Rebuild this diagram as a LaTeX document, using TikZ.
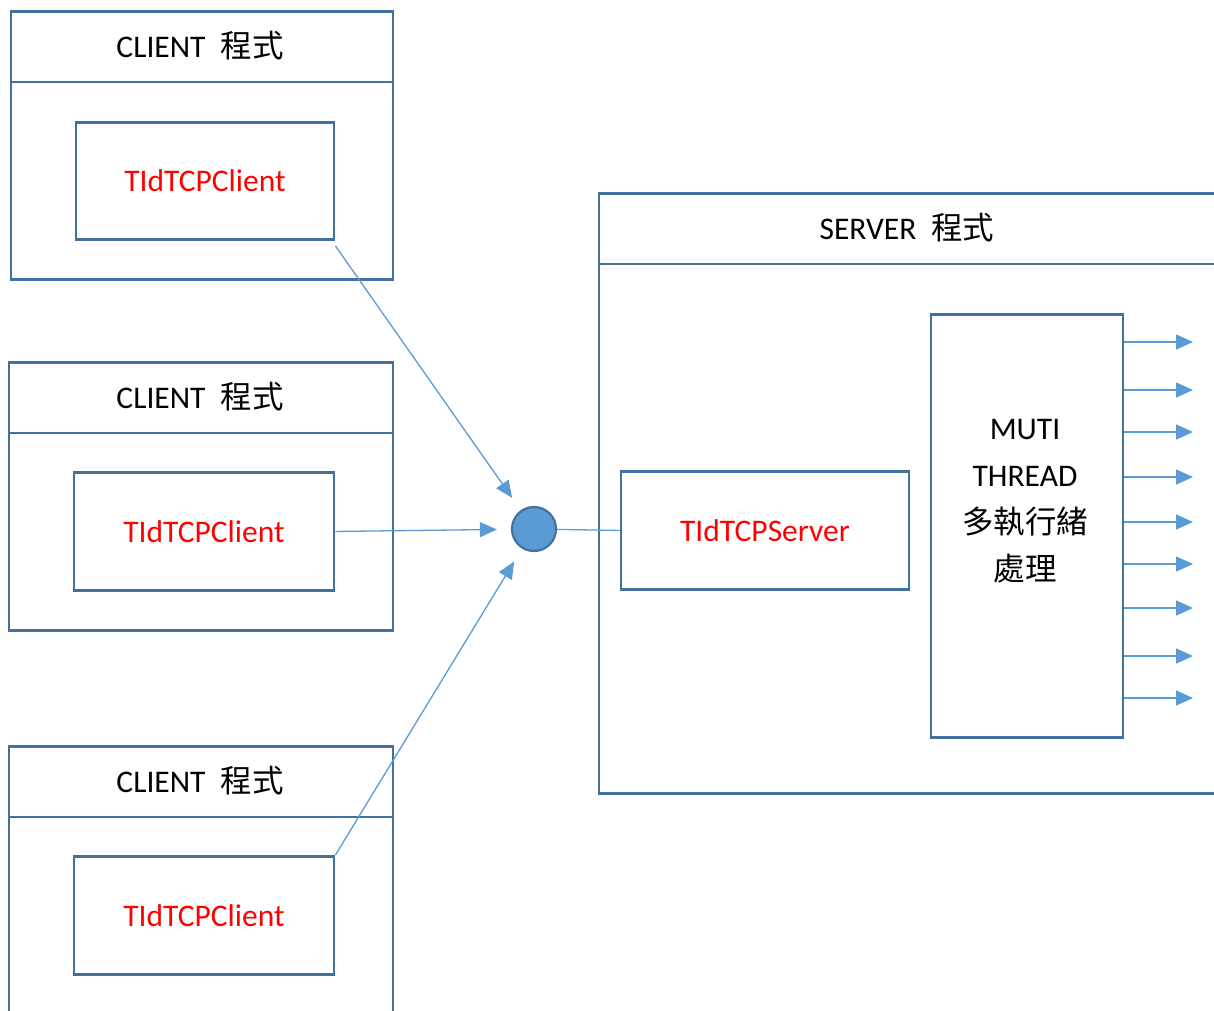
\documentclass[tikz,border=0pt]{standalone}
\usepackage{fontspec}
\setmainfont{Carlito}
\newfontfamily\cjk{Noto Sans CJK TC}
\usetikzlibrary{arrows.meta,calc}
\definecolor{boxblue}{HTML}{41719C}
\definecolor{lineblue}{HTML}{5B9BD5}
\begin{document}
\begin{tikzpicture}[x=1pt,y=-1pt,
  box/.style={draw=boxblue,line width=2.9pt,rectangle,inner sep=0pt,anchor=north west},
  divline/.style={draw=boxblue,line width=2.9pt},
  lbl/.style={font=\fontsize{31.5}{38}\selectfont,text=black},
  redlbl/.style={font=\fontsize{31.5}{38}\selectfont,text=red},
  conn/.style={draw=lineblue,line width=1.3pt},
  arr/.style={conn,-{Triangle[length=17pt,width=15pt]}}]
\useasboundingbox (0,0) rectangle (1214,1010);
\clip (0,0) rectangle (1214,1010);
% client 1
\node[box,minimum width=382pt,minimum height=268pt] (c1) at (9.5,10) {};
\draw[divline] ([yshift=-72pt]c1.north west) -- ([yshift=-72pt]c1.north east);
\node[lbl] (h1) at (200,46) {CLIENT\hspace{15pt}{\cjk 程式}};
\node[box,redlbl,minimum width=258pt,minimum height=117pt] (i1) at (74.5,121) {TIdTCPClient};
% client 2
\node[box,minimum width=384pt,minimum height=268pt] (c2) at (7.5,361) {};
\draw[divline] ([yshift=-72pt]c2.north west) -- ([yshift=-72pt]c2.north east);
\node[lbl] (h2) at (200,397) {CLIENT\hspace{15pt}{\cjk 程式}};
\node[box,redlbl,minimum width=260pt,minimum height=118pt] (i2) at (72.5,471) {TIdTCPClient};
% client 3
\node[box,minimum width=384pt,minimum height=300pt] (c3) at (7.5,745) {};
\draw[divline] ([yshift=-72pt]c3.north west) -- ([yshift=-72pt]c3.north east);
\node[lbl] (h3) at (200,781) {CLIENT\hspace{15pt}{\cjk 程式}};
\node[box,redlbl,minimum width=260pt,minimum height=118pt] (i3) at (72.5,855) {TIdTCPClient};
% hub
\node[circle,draw=boxblue,fill=lineblue,line width=2.2pt,minimum size=44pt,inner sep=0pt] (hub) at (534,529) {};
\draw[arr,shorten >=15pt] ([yshift=-5pt]i1.south east) -- (hub);
\draw[arr,shorten >=14pt] (i2.east) -- (hub);
\draw[arr,shorten >=15pt] (i3.north east) -- (hub);
% server
\node[box,minimum width=650pt,minimum height=600pt] (srv) at (597.5,192) {};
\draw[divline] ([yshift=-72pt]srv.north west) -- ([yshift=-72pt]srv.north east);
\node[lbl] (hs) at (907,228) {SERVER\hspace{15pt}{\cjk 程式}};
\node[box,redlbl,minimum width=288pt,minimum height=118pt] (tsv) at (619.5,470) {TIdTCPServer};
\draw[conn] (hub) -- (tsv.west);
\node[box,minimum width=192pt,minimum height=423pt] (thr) at (929.5,313) {};
\node[lbl,align=center,font=\fontsize{31.5}{47}\selectfont] (thrtxt) at (1025,501) {MUTI\\THREAD\\{\cjk 多執行緒}\\{\cjk 處理}};
\foreach \yy [count=\i] in {342,390,432,477,522,564,608,656,698} {
  \coordinate (o\i) at (1193,\yy);
  \draw[arr] (thr.east |- o\i) -- (o\i);
}
\end{tikzpicture}
\end{document}
